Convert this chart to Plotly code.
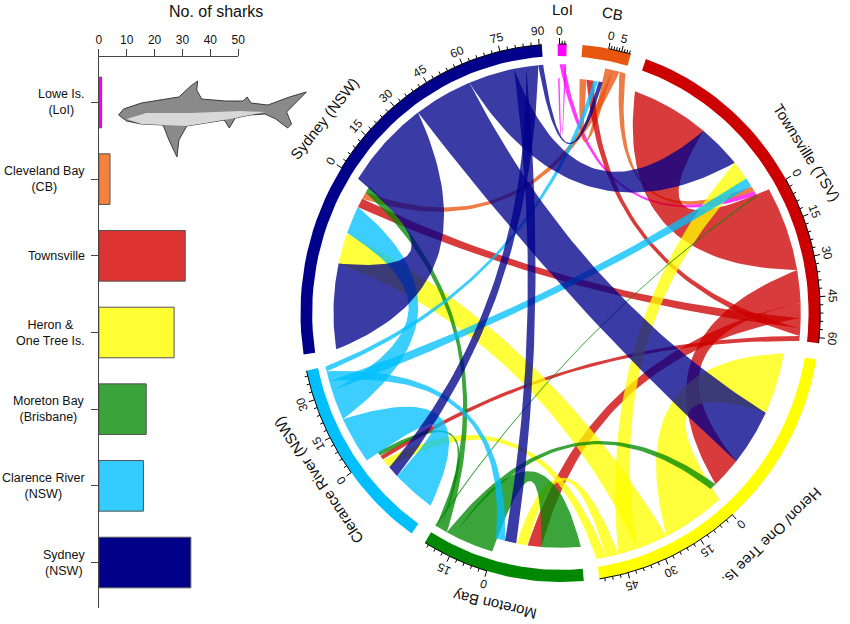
import numpy as np
import plotly.graph_objects as go

# ---- left panel: number of tagged sharks per site
site_labels = ["Lowe Is.<br>(LoI)", "Cleveland Bay<br>(CB)", "Townsville", "Heron &<br>One Tree Is.",
               "Moreton Bay<br>(Brisbane)", "Clarence River<br>(NSW)", "Sydney<br>(NSW)"]
n_sharks = [1, 4, 31, 27, 17, 16, 33]
bar_colors = ["#FF00FF", "#F4823C", "#DD3333", "#FFFF33", "#3AA33A", "#33CCFF", "#000088"]

# ---- right panel: movements between sites (row = from, column = to)
sectors = ["LoI", "CB", "TSV", "HOT", "MB", "CR", "SYD"]
sector_names = ["LoI", "CB", "Townsville (TSV)", "Heron/ One Tree Is.", "Moreton Bay",
                "Clerance River (NSW)", "Sydney (NSW)"]
ring_colors = ["#FF00FF", "#E8550F", "#CC0000", "#FFFF00", "#008800", "#00BFFF", "#00008B"]
major_step = [5, 5, 15, 15, 15, 15, 15]
minor_step = [1, 1, 3, 3, 3, 3, 3]
label_r = [1.13, 1.13, 1.12, 1.165, 1.115, 1.12, 1.16]
moves = np.array([
    # LoI  CB   TSV  HOT  MB   CR   SYD
    [0.7, 0,   2,   0,   0,   0,   0],    # LoI
    [0,   3,   2.5, 0,   0,   0,   3],    # CB
    [0,   3,   34,  13,  6,   2,   4],    # TSV
    [0,   0,   8,   26,  5,   4,   13],   # HOT
    [0,   0,   0.5, 3,   17,  2,   3],    # MB
    [0,   2,   4,   0,   4,   19,  12],   # CR
    [0,   2,   19,  24,  5,   5,   36],   # SYD
])

FONT = "Arial, Liberation Sans, sans-serif"
R_OUT, R_IN, R_LONG, R_SHORT = 1.0, 0.955, 0.925, 0.873
GAP, START = 3.5, 90.6


def to_rgba(hex_col, a):
    h = hex_col.lstrip("#")
    return "rgba(%d,%d,%d,%.2f)" % (int(h[0:2], 16), int(h[2:4], 16), int(h[4:6], 16), a)


def arc(r, a1, a2, n=40):
    t = np.radians(np.linspace(a1, a2, n))
    return list(r * np.cos(t)), list(r * np.sin(t))


def bezier(r0, a0, r2, a2, n=50):
    diff = (a2 - a0 + 180) % 360 - 180
    d = abs(diff)
    mid = np.radians(a0 + diff / 2)
    rc = 0.45 * (r0 + r2) / 2 * (1 - d / 180)
    p0 = np.array([r0 * np.cos(np.radians(a0)), r0 * np.sin(np.radians(a0))])
    p2 = np.array([r2 * np.cos(np.radians(a2)), r2 * np.sin(np.radians(a2))])
    c = np.array([rc * np.cos(mid), rc * np.sin(mid)])
    t = np.linspace(0, 1, n)[:, None]
    pts = (1 - t) ** 2 * p0 + 2 * (1 - t) * t * c + t ** 2 * p2
    return list(pts[:, 0]), list(pts[:, 1])


n = len(sectors)
out_tot = moves.sum(axis=1)
in_tot = moves.sum(axis=0)
size = out_tot + in_tot
dpu = (360 - GAP * n) / size.sum()

sec_start = []
a = START
for s in size:
    sec_start.append(a)
    a -= s * dpu + GAP

# root positions: incoming roots first (short), then outgoing roots (long), largest first
in_pos, out_pos = {}, {}
for i in range(n):
    u = 0.0
    inc = sorted([(moves[k, i], k) for k in range(n) if moves[k, i] > 0], key=lambda t: -t[0])
    for v, k in inc:
        in_pos[(k, i)] = (sec_start[i] - u * dpu, sec_start[i] - (u + v) * dpu)
        u += v
    outg = sorted([(moves[i, j], j) for j in range(n) if moves[i, j] > 0], key=lambda t: -t[0])
    for v, j in outg:
        out_pos[(i, j)] = (sec_start[i] - u * dpu, sec_start[i] - (u + v) * dpu)
        u += v

fig = go.Figure()

# bars
fig.add_trace(go.Bar(x=n_sharks, y=list(range(n)), orientation="h", width=0.66,
                     marker=dict(color=bar_colors, line=dict(color="#555555", width=1)),
                     hoverinfo="skip", xaxis="x", yaxis="y", showlegend=False))

# outer sector rings
for i in range(n):
    a1, a2 = sec_start[i], sec_start[i] - size[i] * dpu
    xo, yo = arc(R_OUT, a1, a2)
    xi, yi = arc(R_IN, a2, a1)
    fig.add_trace(go.Scatter(x=xo + xi + [xo[0]], y=yo + yi + [yo[0]], mode="lines", fill="toself",
                             fillcolor=ring_colors[i], line=dict(width=0, color="rgba(0,0,0,0)"),
                             hoverinfo="skip", xaxis="x2", yaxis="y2", showlegend=False))

# links
for i in range(n):
    for j in range(n):
        if moves[i, j] <= 0:
            continue
        s1, s2 = out_pos[(i, j)]
        t1, t2 = in_pos[(i, j)]
        x1, y1 = arc(R_LONG, s1, s2)
        x2, y2 = bezier(R_LONG, s2, R_SHORT, t1)
        x3, y3 = arc(R_SHORT, t1, t2)
        x4, y4 = bezier(R_SHORT, t2, R_LONG, s1)
        fig.add_trace(go.Scatter(x=x1 + x2 + x3 + x4, y=y1 + y2 + y3 + y4, mode="lines", fill="toself",
                                 fillcolor=to_rgba(ring_colors[i], 0.77),
                                 line=dict(width=0, color="rgba(0,0,0,0)"),
                                 hoverinfo="skip", xaxis="x2", yaxis="y2", showlegend=False))

# sector axes (outgoing part only)
tx, ty = [], []
annotations = []
for i in range(n):
    base = sec_start[i] - in_tot[i] * dpu
    end = sec_start[i] - size[i] * dpu
    xa, ya = arc(R_OUT, base, end, 30)
    tx += xa + [None]
    ty += ya + [None]
    v = 0
    while v <= out_tot[i] + 1e-9:
        ang = np.radians(base - v * dpu)
        major = v % major_step[i] == 0
        r2 = R_OUT + (0.022 if major else 0.012)
        tx += [R_OUT * np.cos(ang), r2 * np.cos(ang), None]
        ty += [R_OUT * np.sin(ang), r2 * np.sin(ang), None]
        if major:
            deg = base - v * dpu
            rot = (90 - deg + 180) % 360 - 180
            annotations.append(dict(x=1.05 * np.cos(ang), y=1.05 * np.sin(ang), xref="x2", yref="y2",
                                    text=str(int(v)), showarrow=False, textangle=rot,
                                    font=dict(size=12, family=FONT, color="#111111")))
        v += minor_step[i]
    mid = sec_start[i] - size[i] * dpu / 2
    rot = (90 - mid + 180) % 360 - 180
    rl = label_r[i]
    annotations.append(dict(x=rl * np.cos(np.radians(mid)), y=rl * np.sin(np.radians(mid)),
                            xref="x2", yref="y2", text=sector_names[i], showarrow=False, textangle=rot,
                            font=dict(size=15, family=FONT, color="#111111")))

fig.add_trace(go.Scatter(x=tx, y=ty, mode="lines", line=dict(color="black", width=1),
                         hoverinfo="skip", xaxis="x2", yaxis="y2", showlegend=False))

# bar labels
for k, lab in enumerate(site_labels):
    annotations.append(dict(x=85 / 850, y=k, xref="paper", yref="y", text=lab, showarrow=False,
                            xanchor="right", align="center", font=dict(size=12.5, family=FONT, color="#111111")))
annotations.append(dict(x=166 / 850, y=1 - 11 / 624, xref="paper", yref="paper", text="No. of sharks",
                        showarrow=False, yanchor="middle", font=dict(size=16, family=FONT, color="#111111")))

# shark drawing (decoration)
shark_px = [(117, 115), (122, 109), (140, 103), (165, 99), (178, 97), (190, 86), (197, 81), (196, 90),
            (201, 99), (225, 101), (243, 101), (247, 97), (251, 103), (268, 105), (290, 97), (307, 92),
            (297, 102), (287, 112), (292, 124), (288, 128), (276, 119), (265, 114), (250, 115), (235, 118),
            (229, 128), (224, 120), (205, 123), (186, 126), (178, 140), (176, 157), (168, 140), (162, 125),
            (140, 124), (125, 121)]
belly_px = [(125, 119), (145, 113), (190, 113), (240, 111), (265, 112), (250, 115), (235, 118),
            (205, 123), (186, 126), (162, 125), (140, 124)]
path = "M " + " L ".join("%.4f,%.4f" % (px / 850, 1 - py / 624) for px, py in shark_px) + " Z"
bpath = "M " + " L ".join("%.4f,%.4f" % (px / 850, 1 - py / 624) for px, py in belly_px) + " Z"
shapes = [dict(type="path", path=path, xref="paper", yref="paper", fillcolor="#8a8a8a",
               line=dict(color="#3a3a3a", width=1)),
          dict(type="path", path=bpath, xref="paper", yref="paper", fillcolor="#d8d8d8",
               line=dict(width=0))]

cx, cy, sx, sy = 564, 313, 263, 269
fig.update_layout(
    width=850, height=624, margin=dict(l=0, r=0, t=0, b=0),
    paper_bgcolor="white", plot_bgcolor="white",
    font=dict(family=FONT, size=12, color="#111111"),
    annotations=annotations, shapes=shapes,
    xaxis=dict(domain=[97 / 850, 238 / 850], range=[0, 50], side="top", showline=True, linecolor="#444444",
               ticks="outside", ticklen=7, tickcolor="#444444", tickvals=[0, 10, 20, 30, 40, 50],
               showgrid=False, zeroline=False, tickfont=dict(size=12)),
    yaxis=dict(domain=[1 - 608 / 624, 1 - 57 / 624], range=[6.593, -0.593], showline=True,
               linecolor="#444444", ticks="outside", ticklen=7, tickcolor="#444444",
               tickvals=list(range(n)), showticklabels=False, showgrid=False, zeroline=False),
    xaxis2=dict(domain=[0.30, 1.0], range=[(255 - cx) / sx, (850 - cx) / sx], visible=False),
    yaxis2=dict(domain=[0, 1], range=[(cy - 624) / sy, cy / sy], visible=False),
)

fig.write_html("out.html", config={"displayModeBar": False},
               post_script="document.body.style.margin='0';document.body.style.overflow='hidden';")
